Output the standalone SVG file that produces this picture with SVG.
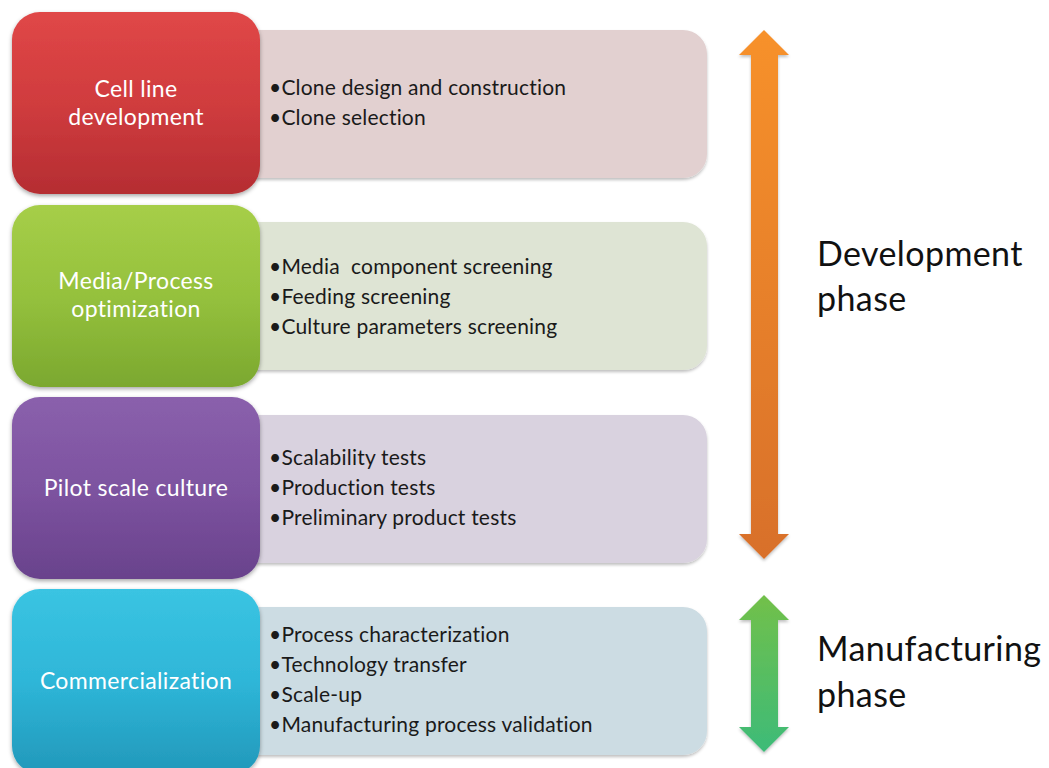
<svg xmlns="http://www.w3.org/2000/svg" width="1049" height="768" viewBox="0 0 1049 768">
<defs>
<style>
.lbl{font-family:Lato,"Open Sans","Liberation Sans",sans-serif;font-size:23px;letter-spacing:0.35px;fill:#ffffff;text-anchor:middle}
.item{font-family:Lato,"Open Sans","Liberation Sans",sans-serif;font-size:21px;letter-spacing:0.2px;fill:#1a1a1a}
.phase{font-family:Lato,"Open Sans","Liberation Sans",sans-serif;font-size:34px;letter-spacing:0.4px;fill:#111111}
</style>
<filter id="sh" x="-10%" y="-10%" width="120%" height="130%">
<feDropShadow dx="0" dy="2" stdDeviation="2" flood-color="#000" flood-opacity="0.35"/>
</filter>
<filter id="sh2" x="-10%" y="-10%" width="120%" height="130%">
<feDropShadow dx="0" dy="2" stdDeviation="1.5" flood-color="#000" flood-opacity="0.25"/>
</filter>
<linearGradient id="gRed" x1="0" y1="0" x2="0" y2="1">
<stop offset="0" stop-color="#E04747"/><stop offset="0.5" stop-color="#D03C3E"/><stop offset="1" stop-color="#B52D32"/>
</linearGradient>
<linearGradient id="gGreen" x1="0" y1="0" x2="0" y2="1">
<stop offset="0" stop-color="#A6CE48"/><stop offset="0.5" stop-color="#95C13D"/><stop offset="1" stop-color="#7BA82F"/>
</linearGradient>
<linearGradient id="gPurple" x1="0" y1="0" x2="0" y2="1">
<stop offset="0" stop-color="#8A60AC"/><stop offset="0.5" stop-color="#7D53A0"/><stop offset="1" stop-color="#69428C"/>
</linearGradient>
<linearGradient id="gCyan" x1="0" y1="0" x2="0" y2="1">
<stop offset="0" stop-color="#3AC4E2"/><stop offset="0.5" stop-color="#2EB6D8"/><stop offset="1" stop-color="#2298BA"/>
</linearGradient>
<linearGradient id="gOrange" x1="0" y1="0" x2="0" y2="1">
<stop offset="0" stop-color="#F7912B"/><stop offset="1" stop-color="#D8702A"/>
</linearGradient>
<linearGradient id="gArrowG" x1="0" y1="0" x2="0" y2="1">
<stop offset="0" stop-color="#72C04A"/><stop offset="1" stop-color="#3DBB78"/>
</linearGradient>
</defs>
<rect width="1049" height="768" fill="#ffffff"/>

<g id="connectors">
<path filter="url(#sh2)" fill="url(#gOrange)" d="M764,30 L789,55 L778,55 L778,534 L789,534 L764,559 L739,534 L751,534 L751,55 L739,55 Z"/>
<path filter="url(#sh2)" fill="url(#gArrowG)" d="M764,595 L789,620 L778,620 L778,727 L789,727 L764,752 L739,727 L751,727 L751,620 L739,620 Z"/>
</g>

<g id="node-cell-line">
<rect x="230" y="30" width="477" height="148" rx="24" fill="#E2D0D0" filter="url(#sh2)"/>
<rect x="12" y="12" width="248" height="182" rx="28" fill="url(#gRed)" filter="url(#sh)"/>
<text class="lbl" x="136" y="97">Cell line</text>
<text class="lbl" x="136" y="125">development</text>
<text class="item" x="269" y="95">•Clone design and construction</text>
<text class="item" x="269" y="125">•Clone selection</text>
</g>

<g id="node-media">
<rect x="230" y="222" width="477" height="148" rx="24" fill="#DEE4D4" filter="url(#sh2)"/>
<rect x="12" y="205" width="248" height="182" rx="28" fill="url(#gGreen)" filter="url(#sh)"/>
<text class="lbl" x="136" y="289">Media/Process</text>
<text class="lbl" x="136" y="317">optimization</text>
<text class="item" x="269" y="274" xml:space="preserve">•Media  component screening</text>
<text class="item" x="269" y="304">•Feeding screening</text>
<text class="item" x="269" y="334">•Culture parameters screening</text>
</g>

<g id="node-pilot">
<rect x="230" y="415" width="477" height="148" rx="24" fill="#D9D2DF" filter="url(#sh2)"/>
<rect x="12" y="397" width="248" height="182" rx="28" fill="url(#gPurple)" filter="url(#sh)"/>
<text class="lbl" x="136" y="496">Pilot scale culture</text>
<text class="item" x="269" y="465">•Scalability tests</text>
<text class="item" x="269" y="495">•Production tests</text>
<text class="item" x="269" y="525">•Preliminary product tests</text>
</g>

<g id="node-commercial">
<rect x="230" y="607" width="477" height="148" rx="24" fill="#CCDCE3" filter="url(#sh2)"/>
<rect x="12" y="589" width="248" height="185" rx="28" fill="url(#gCyan)" filter="url(#sh)"/>
<text class="lbl" x="136" y="689">Commercialization</text>
<text class="item" x="269" y="642">•Process characterization</text>
<text class="item" x="269" y="672">•Technology transfer</text>
<text class="item" x="269" y="702">•Scale-up</text>
<text class="item" x="269" y="732">•Manufacturing process validation</text>
</g>

<g id="label-development">
<text class="phase" x="817" y="266">Development</text>
<text class="phase" x="817" y="311">phase</text>
</g>
<g id="label-manufacturing">
<text class="phase" x="817" y="661">Manufacturing</text>
<text class="phase" x="817" y="707">phase</text>
</g>
</svg>
